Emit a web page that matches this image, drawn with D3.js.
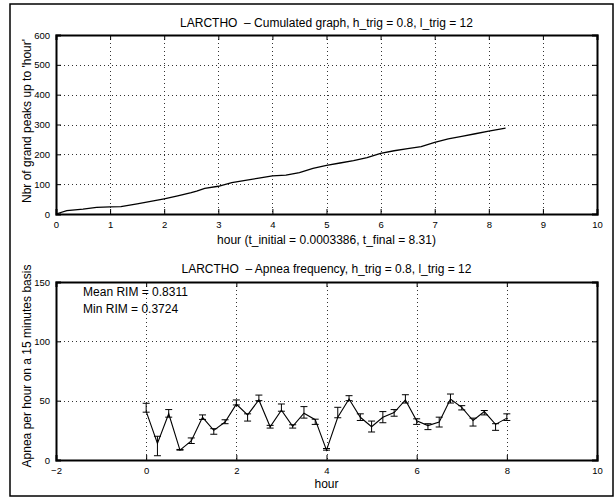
<!DOCTYPE html>
<html>
<head>
<meta charset="utf-8">
<script src="https://cdn.jsdelivr.net/npm/d3@7"></script>
<style>
  body { margin: 0; background: #fff; }
  svg { display: block; font-family: "Liberation Sans", Arial, sans-serif; }
  text { white-space: pre; }
</style>
</head>
<body>
<script>
// cumulated graph (top)
const cumHours = [0, 0.2, 0.5, 0.75, 1.0, 1.2, 1.5, 1.75, 2.0, 2.25, 2.5, 2.6, 2.75, 3.0, 3.25, 3.5, 3.75,
  4.0, 4.25, 4.5, 4.75, 5.0, 5.25, 5.5, 5.75, 6.0, 6.25, 6.5, 6.75, 7.0, 7.25, 7.5, 7.75, 8.0, 8.31];
const cumPeaks = [0, 11, 16, 22, 24, 25, 34, 42, 51, 61, 72, 77, 86, 93, 105, 113, 120,
  128, 130, 139, 153, 163, 171, 179, 189, 203, 212, 219, 226, 240, 252, 260, 269, 278, 288];

// apnea frequency (bottom)
const apHours = [0, 0.25, 0.5, 0.75, 1, 1.25, 1.5, 1.75, 2, 2.25, 2.5, 2.75, 3, 3.25, 3.5, 3.75,
  4, 4.25, 4.5, 4.75, 5, 5.25, 5.5, 5.75, 6, 6.25, 6.5, 6.75, 7, 7.25, 7.5, 7.75, 8];
const apValue = [41, 14, 39, 8.3, 16, 36, 25, 32, 47, 38, 50.6, 28, 42, 28.3, 39.4, 34,
  8.3, 36, 51.4, 36, 28, 36, 40, 50.6, 33, 29, 32, 51.4, 44.4, 33.3, 40.8, 30, 35.3];
const apUpper = [47.8, 20, 42.5, 8.9, 18.6, 38, 26.4, 33.9, 50.6, 38.9, 54.7, 29.2, 47.2, 29.7, 45, 34.4,
  9.7, 44.4, 54.2, 38.9, 32.8, 40.8, 42.5, 55, 34.7, 30.6, 36.1, 55.6, 45.8, 35.3, 41.7, 30.6, 38.9];
const apLower = [40.3, 3.6, 36.1, 8.3, 13.9, 34.2, 21.7, 30.6, 46.4, 32.8, 50, 26.9, 41.1, 26.9, 35.3, 30,
  8.3, 35.6, 50, 33.3, 23.6, 31.4, 36.9, 48, 30, 25.6, 27.8, 48, 42.2, 28.6, 38, 25, 33.3];

const topTitle = "LARCTHO  \u2013 Cumulated graph, h_trig = 0.8, l_trig = 12";
const botTitle = "LARCTHO  \u2013 Apnea frequency, h_trig = 0.8, l_trig = 12";

const width = 616;
const height = 499;

const svg = d3.select("body").append("svg")
  .attr("width", width)
  .attr("height", height);

// figure border
svg.append("rect")
  .attr("x", 10).attr("y", 4)
  .attr("width", 603).attr("height", 492)
  .attr("fill", "none").attr("stroke", "#000").attr("stroke-width", 1.5);

function drawAxes(x, y, xTicks, yTicks, xGrid, yGrid) {
  const [x0, x1] = x.range();
  const [y0, y1] = y.range();
  const g = svg.append("g");

  // dotted grid
  g.selectAll(".vg").data(xGrid).enter().append("line")
    .attr("x1", (d) => Math.round(x(d)) + 0.5).attr("x2", (d) => Math.round(x(d)) + 0.5)
    .attr("y1", y1).attr("y2", y0)
    .attr("stroke", "#333").attr("stroke-dasharray", "1,3");
  g.selectAll(".hg").data(yGrid).enter().append("line")
    .attr("y1", (d) => Math.round(y(d)) + 0.5).attr("y2", (d) => Math.round(y(d)) + 0.5)
    .attr("x1", x0).attr("x2", x1)
    .attr("stroke", "#333").attr("stroke-dasharray", "1,3");

  const fmt = (d) => String(d).replace("-", "\u2212");

  g.append("g").attr("transform", `translate(0,${y0})`)
    .call(d3.axisBottom(x).tickValues(xTicks).tickSize(-5).tickPadding(7).tickFormat(fmt));
  g.append("g").attr("transform", `translate(0,${y1})`)
    .call(d3.axisTop(x).tickValues(xTicks).tickSize(-5).tickFormat(""));
  g.append("g").attr("transform", `translate(${x0},0)`)
    .call(d3.axisLeft(y).tickValues(yTicks).tickSize(-5).tickPadding(6).tickFormat(fmt));
  g.append("g").attr("transform", `translate(${x1},0)`)
    .call(d3.axisRight(y).tickValues(yTicks).tickSize(-5).tickFormat(""));

  g.selectAll(".domain").attr("stroke-width", 2);
  g.selectAll(".tick line").attr("stroke-width", 1);
  g.selectAll(".tick text").style("font-size", "9.5px").attr("fill", "#000")
    .style("font-family", "'Liberation Sans', Arial, sans-serif");
  return g;
}

// ---- top chart ----
const xTop = d3.scaleLinear().domain([0, 10]).range([56, 597]);
const yTop = d3.scaleLinear().domain([0, 600]).range([214, 35]);

drawAxes(xTop, yTop, d3.range(0, 11), d3.range(0, 601, 100),
  d3.range(1, 10), d3.range(100, 501, 100));

svg.append("path")
  .datum(cumHours.map((h, i) => [h, cumPeaks[i]]))
  .attr("fill", "none").attr("stroke", "#000").attr("stroke-width", 1.3)
  .attr("d", d3.line().x((d) => xTop(d[0])).y((d) => yTop(d[1])));

svg.append("text").attr("x", (56 + 597) / 2).attr("y", 27)
  .attr("text-anchor", "middle").style("font-size", "12px").text(topTitle);
svg.append("text").attr("x", (56 + 597) / 2).attr("y", 243.5)
  .attr("text-anchor", "middle").style("font-size", "12px")
  .text("hour (t_initial = 0.0003386, t_final = 8.31)");
svg.append("text")
  .attr("transform", `translate(31,121) rotate(-90)`)
  .attr("text-anchor", "middle").style("font-size", "12px")
  .text("Nbr of grand peaks up to 'hour'");

// ---- bottom chart ----
const xBot = d3.scaleLinear().domain([-2, 10]).range([56, 597]);
const yBot = d3.scaleLinear().domain([0, 150]).range([460, 282]);

drawAxes(xBot, yBot, d3.range(-2, 11, 2), [0, 50, 100, 150],
  [0, 2, 4, 6, 8], [50, 100]);

const capW = 3.5;
const eb = svg.append("g").attr("stroke", "#000").attr("stroke-width", 1).attr("fill", "none");
apHours.forEach((h, i) => {
  const cx = xBot(h);
  eb.append("line").attr("x1", cx).attr("x2", cx)
    .attr("y1", yBot(apUpper[i])).attr("y2", yBot(apLower[i]));
  eb.append("line").attr("x1", cx - capW).attr("x2", cx + capW)
    .attr("y1", yBot(apUpper[i])).attr("y2", yBot(apUpper[i]));
  eb.append("line").attr("x1", cx - capW).attr("x2", cx + capW)
    .attr("y1", yBot(apLower[i])).attr("y2", yBot(apLower[i]));
});

svg.append("path")
  .datum(apHours.map((h, i) => [h, apValue[i]]))
  .attr("fill", "none").attr("stroke", "#000").attr("stroke-width", 1.1)
  .attr("d", d3.line().x((d) => xBot(d[0])).y((d) => yBot(d[1])));

svg.append("text").attr("x", xBot(-1.4)).attr("y", yBot(138))
  .style("font-size", "12px").text("Mean RIM = 0.8311");
svg.append("text").attr("x", xBot(-1.4)).attr("y", yBot(124))
  .style("font-size", "12px").text("Min RIM = 0.3724");

svg.append("text").attr("x", (56 + 597) / 2).attr("y", 273)
  .attr("text-anchor", "middle").style("font-size", "12px").text(botTitle);
svg.append("text").attr("x", (56 + 597) / 2).attr("y", 487.5)
  .attr("text-anchor", "middle").style("font-size", "12px").text("hour");
svg.append("text")
  .attr("transform", `translate(31,366) rotate(-90)`)
  .attr("text-anchor", "middle").style("font-size", "12px")
  .text("Apnea per hour on a 15 minutes basis");
</script>
</body>
</html>
